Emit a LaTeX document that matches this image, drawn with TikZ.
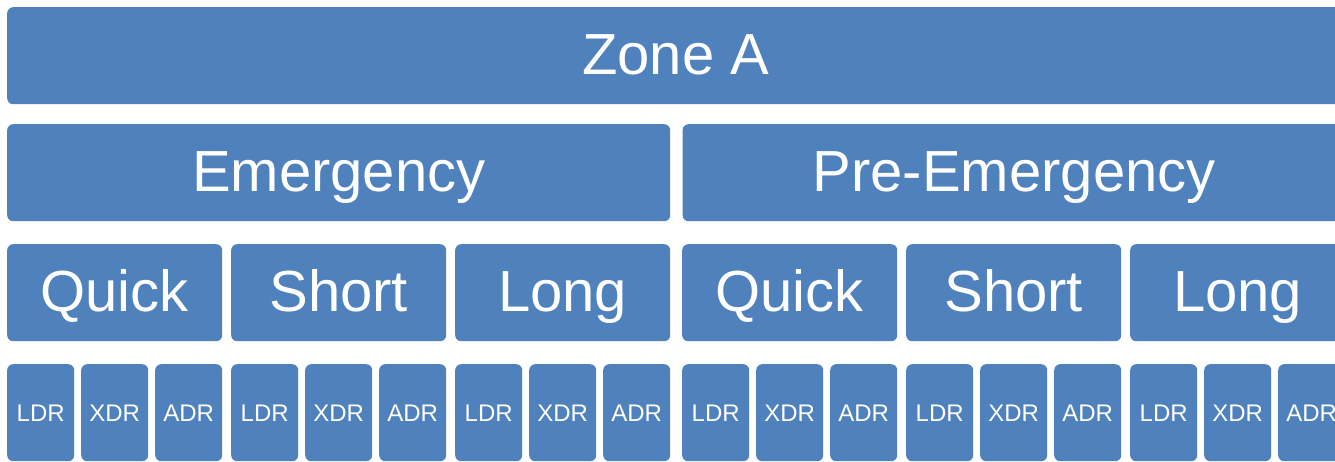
\documentclass[tikz,border=0pt]{standalone}
\usepackage{fontspec}
\setmainfont{Liberation Sans}
\usetikzlibrary{positioning}
\definecolor{zoneblue}{RGB}{79,129,189}
\tikzset{
  box/.style = {
    rectangle,
    fill=zoneblue,
    text=white,
    rounded corners=6pt,
    inner sep=0pt,
    anchor=north west
  },
  bigbox/.style = {
    box,
    font=\fontsize{58}{60}\selectfont,
    text height=49pt,
    text depth=11pt,
    minimum height=97pt
  },
  leafbox/.style = {
    box,
    font=\fontsize{24}{26}\selectfont,
    text height=21pt,
    text depth=3pt,
    minimum width=67pt,
    minimum height=97pt
  },
  pics/duration/.style = {
    code = {
      \node [bigbox,minimum width=215pt] (-head) at (0,0) {#1};
      % three response kinds under each duration
      \foreach \leaf [count=\j from 0] in {LDR,XDR,ADR}
        \node [leafbox] (-\leaf) at ({74*\j},120) {\leaf};
    }
  },
}

\begin{document}
\begin{tikzpicture}[x=1pt,y=-1pt]
  \clip (0,0) rectangle (1335,462);

  \node [bigbox,minimum width=1337pt] (zone) at (7,7) {Zone A};
  \node [bigbox,minimum width=663pt] (emerg) at (7,124) {Emergency};
  \node [bigbox,minimum width=663pt,right=12pt of emerg] (preemerg) {Pre-Emergency};

  \foreach \phase/\x in {em/7,pre/682}
    \foreach \len/\word [count=\i from 0] in {quick/Quick,short/Short,long/Long}
      \pic (\phase-\len) at ({\x+224*\i},244) {duration=\word};
\end{tikzpicture}
\end{document}
